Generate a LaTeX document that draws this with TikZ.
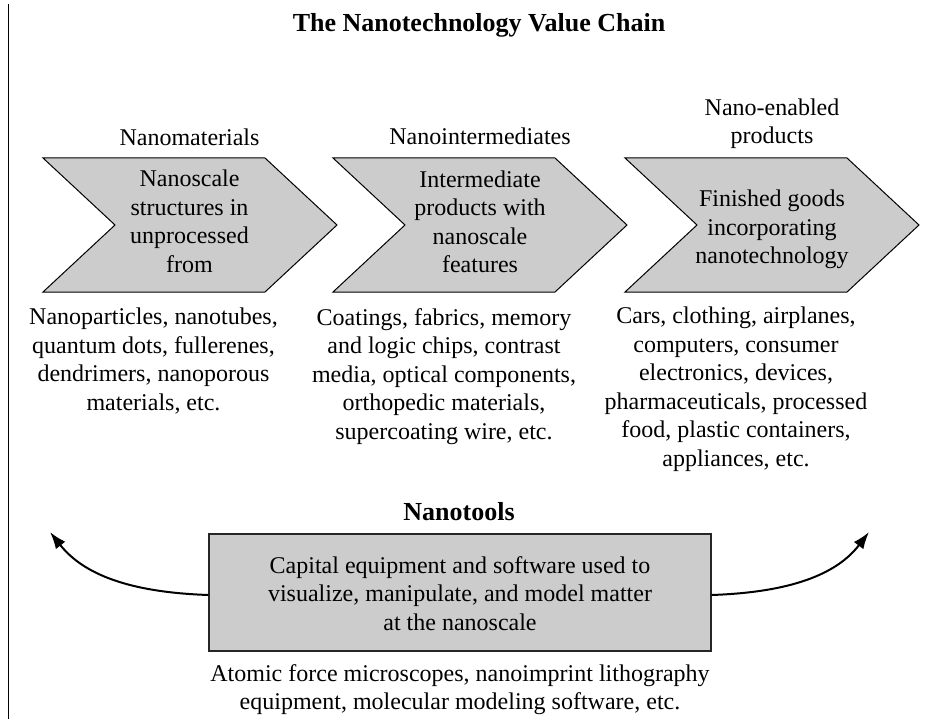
\documentclass[tikz,border=0pt]{standalone}
\usepackage{fontspec}
\setmainfont{Liberation Serif}
\usetikzlibrary{arrows.meta}
\begin{document}
\begin{tikzpicture}[x=1pt,y=-1pt,
  txt/.style={font=\fontsize{24}{28.5}\selectfont, align=center, inner sep=0pt,
              execute at begin node=\strut, execute at end node=\strut},
  ttl/.style={font=\fontsize{26}{30}\selectfont\bfseries, inner sep=0pt},
  chev/.style={draw=black, line width=1pt, fill=black!20, line join=miter},
  toolbox/.style={draw=black!85, line width=1.1pt, fill=black!20,
                  minimum width=502pt, minimum height=117pt, inner sep=0pt},
  arr/.style={line width=2pt, -{Latex[length=17pt,width=12pt]}}]
\useasboundingbox (0,0) rectangle (949,719);

% left rule
\draw[line width=1pt] (8,4) -- (8,719);

% title
\node[ttl, anchor=base] (title) at (479,32) {The Nanotechnology Value Chain};

% chevrons
\foreach \x in {43,333,625}{
  \draw[chev] (\x,158) -- ++(222,0) -- ++(72,67) -- ++(-72,67) -- ++(-222,0) -- ++(72,-67) -- cycle;
}

% labels above
\node[txt, anchor=south] (l1) at (189.5,154.5) {Nanomaterials};
\node[txt, anchor=south] (l2) at (480,153.5) {Nanointermediates};
\node[txt, anchor=south] (l3) at (772,152.5) {Nano-enabled\\products};

% texts inside
\node[txt] (i1) at (189.5,225.5) {Nanoscale\\structures in\\unprocessed\\from};
\node[txt] (i2) at (480,226) {Intermediate\\products with\\nanoscale\\features};
\node[txt] (i3) at (772,231) {Finished goods\\incorporating\\nanotechnology};

% descriptions below
\node[txt, anchor=north] (d1) at (153.5,308) {Nanoparticles, nanotubes,\\quantum dots, fullerenes,\\dendrimers, nanoporous\\materials, etc.};
\node[txt, anchor=north] (d2) at (444,308) {Coatings, fabrics, memory\\and logic chips, contrast\\media, optical components,\\orthopedic materials,\\supercoating wire, etc.};
\node[txt, anchor=north] (d3) at (736,307) {Cars, clothing, airplanes,\\computers, consumer\\electronics, devices,\\pharmaceuticals, processed\\food, plastic containers,\\appliances, etc.};

% nanotools
\node[ttl, anchor=base] (tools) at (459,520) {Nanotools};
\node[toolbox] (box) at (460,592.5) {};
\node[txt] (boxtext) at (460,597.5) {Capital equipment and software used to\\visualize, manipulate, and model matter\\at the nanoscale};
\node[txt, anchor=north] (tdesc) at (460,664) {Atomic force microscopes, nanoimprint lithography\\equipment, molecular modeling software, etc.};

% arrows
\coordinate (lt) at (50,532);
\coordinate (rt) at (869,532);
\draw[arr] ([yshift=-2.5pt]box.west) .. controls (120,592) and (80,570) .. (lt);
\draw[arr] ([yshift=-2.5pt]box.east) .. controls (800,592) and (840,570) .. (rt);
\end{tikzpicture}
\end{document}
